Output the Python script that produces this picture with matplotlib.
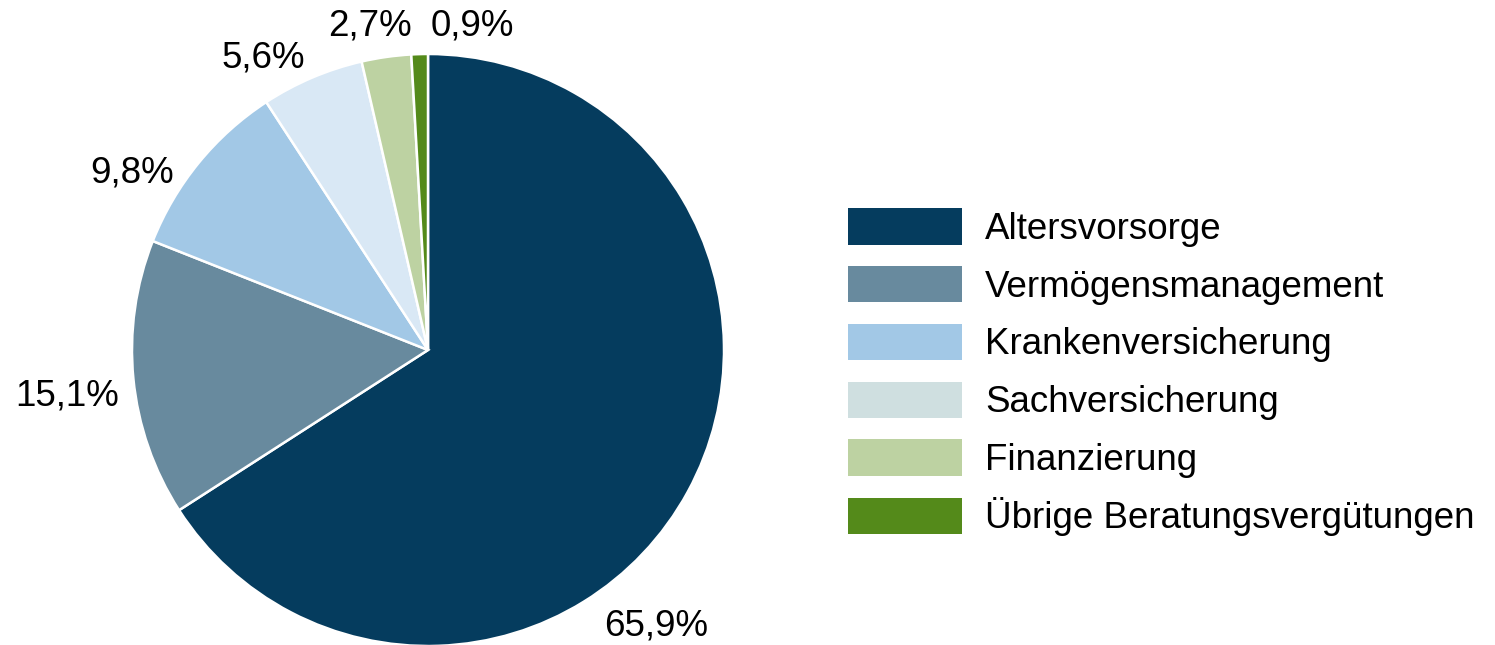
import matplotlib
matplotlib.use('Agg')
import matplotlib.pyplot as plt
from matplotlib.patches import Patch

plt.rcParams['font.family'] = ['Liberation Sans', 'DejaVu Sans']

categories = ['Altersvorsorge', 'Vermögensmanagement', 'Krankenversicherung',
              'Sachversicherung', 'Finanzierung', 'Übrige Beratungsvergütungen']
shares = [65.9, 15.1, 9.8, 5.6, 2.7, 0.9]
labels = ['65,9%', '15,1%', '9,8%', '5,6%', '2,7%', '0,9%']

pie_colors = ['#053c5e', '#688a9e', '#a2c8e6', '#d9e8f5', '#bdd2a2', '#548a1a']
legend_colors = ['#053c5e', '#688a9e', '#a2c8e6', '#cfdfe0', '#bdd2a2', '#548a1a']
# hand placed label positions (in units of the radius)
label_pos = [(0.772, -0.932), (-1.22, -0.155), (-1.0, 0.597),
             (-0.557, 0.986), (-0.196, 1.095), (0.149, 1.095)]

W, H = 1495, 645
fig = plt.figure(figsize=(W / 100, H / 100), dpi=100)
ax = fig.add_axes([132 / W, -1 / H, 592 / W, 592 / H])

wedges, _ = ax.pie(shares, colors=pie_colors, startangle=90, counterclock=False,
                   wedgeprops=dict(edgecolor='white', linewidth=1.8))
for w in wedges:
    w.set_clip_on(False)
ax.set_xlim(-1, 1)
ax.set_ylim(-1, 1)
ax.set_aspect('equal')
ax.axis('off')

for txt, (x, y) in zip(labels, label_pos):
    ax.text(x, y, txt, ha='center', va='center', fontsize=26.5, clip_on=False)

handles = [Patch(facecolor=c, edgecolor='none') for c in legend_colors]
fig.legend(handles, categories, loc='upper left',
           bbox_to_anchor=(848 / W, 1 - 208 / H), bbox_transform=fig.transFigure,
           frameon=False, fontsize=26.5, borderpad=0, borderaxespad=0,
           handlelength=3.1, handleheight=1.15, labelspacing=0.52, handletextpad=0.63)

fig.savefig('out.png', dpi=100)
